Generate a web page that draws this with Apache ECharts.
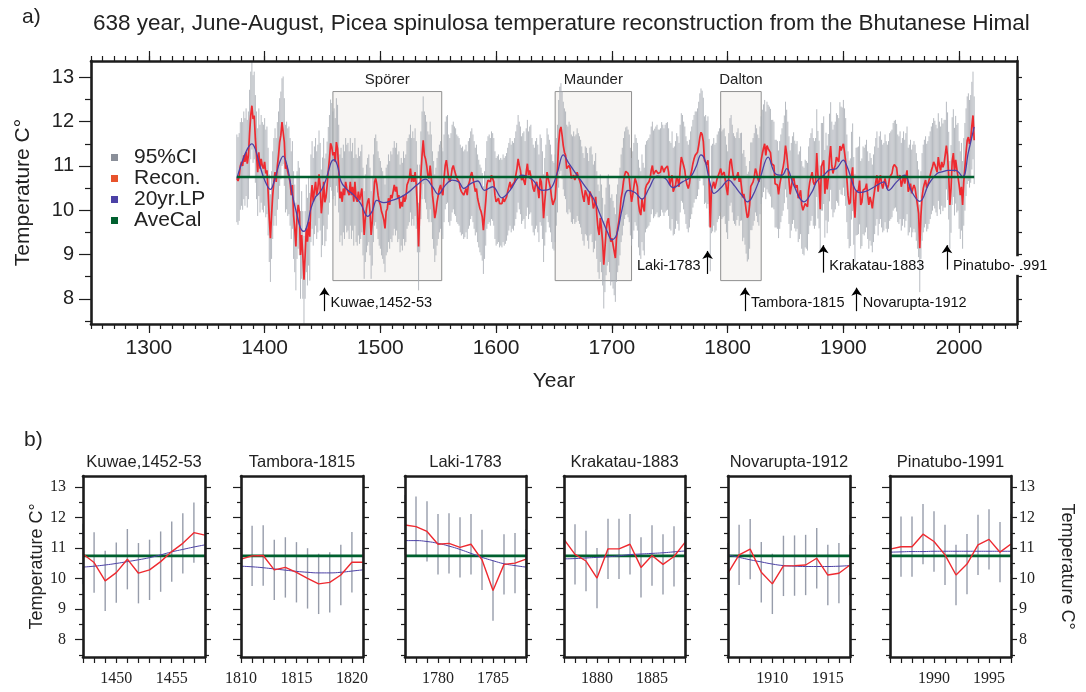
<!DOCTYPE html>
<html><head><meta charset="utf-8">
<script src="https://cdn.jsdelivr.net/npm/echarts@6/dist/echarts.min.js"></script>
<style>html,body{margin:0;padding:0;background:#fff}#c{width:1086px;height:692px}</style>
</head><body><div id="c"></div>
<script>
// ---------------- DATA ----------------
const firstYear = 1376;
const recon = [
  10.72,10.66,10.75,11.0,
  11.09,11.0,11.24,11.09,11.31,11.05,11.24,11.73,12.14,12.36,
  12.06,12.14,11.61,11.24,10.86,11.31,10.94,11.16,11.0,10.94,
  11.09,10.83,10.9,10.42,9.82,9.37,9.89,10.34,10.64,10.86,
  10.64,11.0,11.24,11.54,11.69,11.99,12.03,11.54,10.94,11.01,
  10.86,10.9,10.64,10.34,10.57,9.89,9.59,9.18,9.89,10.12,
  9.97,8.99,9.44,8.99,8.43,8.99,9.59,9.29,9.74,9.4,
  10.27,10.57,10.19,10.45,10.64,10.34,10.49,10.81,10.53,9.93,
  10.20,10.64,10.18,10.29,10.56,10.89,11.16,11.51,11.43,11.24,
  11.31,11.09,11.54,11.39,10.94,10.27,10.42,10.19,10.49,10.34,
  10.64,10.49,10.53,10.34,10.64,10.34,10.53,10.19,10.64,10.27,
  10.19,10.42,10.23,10.34,10.49,9.97,9.44,9.82,10.04,10.19,
  10.27,9.97,9.44,9.74,10.27,10.64,10.72,10.57,10.34,10.19,
  10.12,9.97,9.89,9.78,9.59,9.97,10.04,10.27,10.12,10.34,
  10.27,10.42,10.57,10.42,10.53,10.27,10.34,10.04,10.19,10.08,
  10.34,10.19,10.27,10.57,10.64,10.72,10.94,10.64,10.79,10.64,
  10.86,10.57,10.04,9.18,10.04,10.79,11.24,11.58,11.24,11.16,
  11.01,10.79,10.72,11.01,10.72,10.34,10.12,9.82,9.97,10.19,
  10.34,10.49,10.57,10.42,10.34,10.72,11.01,11.13,11.16,10.72,
  10.64,10.75,10.94,11.01,10.9,10.86,10.72,10.68,10.64,10.49,
  10.42,10.45,10.34,10.38,10.49,10.34,10.57,10.64,10.79,10.86,
  10.72,10.57,10.42,10.49,10.27,10.15,10.04,9.97,9.85,9.55,
  9.89,10.19,10.57,10.68,10.72,10.64,10.79,10.75,10.64,10.34,
  10.19,10.23,10.27,10.15,10.19,10.15,10.27,10.19,10.23,10.3,
  10.42,10.53,10.64,10.49,10.57,10.53,10.64,10.79,10.94,11.16,
  11.01,10.9,10.68,10.75,10.79,10.57,10.86,11.05,10.79,10.9,
  10.94,10.64,10.49,10.42,10.57,10.64,10.49,10.27,10.72,10.64,
  10.34,9.82,10.19,10.49,10.86,10.72,10.6,10.49,10.27,10.12,
  10.08,10.27,10.64,10.94,11.5,11.8,11.88,11.69,11.46,11.31,
  11.24,10.94,10.9,11.01,10.94,10.72,10.68,10.79,10.68,10.72,
  10.86,10.75,10.68,10.6,10.45,10.3,10.19,10.45,10.42,10.3,
  10.12,10.42,10.45,10.27,10.04,10.12,10.3,9.89,9.59,9.44,
  9.82,9.59,9.29,8.77,9.14,9.52,9.74,9.82,9.59,9.29,
  9.37,9.22,9.07,8.92,9.37,9.59,9.74,9.97,10.27,10.42,
  10.64,10.79,10.88,10.9,10.83,10.72,10.42,10.19,10.34,10.53,
  10.72,10.64,10.53,10.15,9.97,9.89,10.27,10.08,9.97,10.49,
  10.57,10.6,10.64,10.72,10.9,11.01,10.81,10.85,10.9,10.94,
  10.83,10.83,10.86,11.0,10.94,10.86,10.94,10.98,11.0,10.86,
  10.57,10.53,10.79,10.42,10.45,10.57,10.75,10.68,10.53,10.94,
  11.2,11.16,11.01,10.9,10.68,10.57,10.49,10.6,10.79,10.9,
  11.05,11.16,11.24,11.24,11.31,11.46,11.65,11.76,11.71,11.55,
  11.13,11.16,11.03,11.13,10.62,9.61,10.47,10.51,10.64,10.49,
  10.53,10.72,10.79,10.86,10.94,10.79,10.83,10.86,10.68,10.49,
  10.34,10.75,11.09,11.16,10.94,10.75,10.68,10.64,10.77,10.86,
  10.64,10.75,10.76,10.29,10.37,10.21,10.01,9.83,9.88,10.12,
  10.54,10.54,10.64,10.75,10.94,10.86,10.72,10.64,10.9,11.13,
  11.28,11.4,11.5,11.24,11.46,11.39,11.35,11.3,11.05,11.05,
  11.01,10.6,10.6,10.57,10.36,10.57,10.72,10.86,10.98,11.15,
  11.46,11.28,11.01,10.68,10.36,10.53,10.68,10.77,10.58,10.51,
  10.57,10.27,10.34,10.45,10.12,10.0,9.97,10.15,10.12,10.08,
  10.45,10.64,10.75,10.86,10.64,10.57,10.64,11.29,10.80,10.58,
  10.02,10.98,10.98,11.13,10.37,10.76,10.47,10.73,11.19,11.45,
  11.01,10.83,10.94,11.01,11.2,11.16,11.09,11.45,11.35,11.33,
  11.5,11.31,11.09,10.72,10.34,10.13,10.18,10.78,10.97,10.21,
  9.83,10.42,10.43,10.45,10.67,10.12,10.18,10.45,10.42,10.49,
  10.6,10.34,10.12,10.3,10.19,10.04,10.27,10.45,10.64,10.79,
  10.42,10.68,10.79,10.6,10.49,10.53,10.72,10.57,10.49,10.57,
  10.75,10.79,10.83,10.98,11.03,11.05,10.96,10.72,10.68,10.79,
  10.53,10.64,10.79,10.6,10.75,10.9,10.42,10.49,10.6,10.38,
  10.49,10.57,10.49,10.3,10.12,9.93,9.14,9.89,10.3,10.49,
  10.6,10.68,10.51,10.57,10.68,10.79,10.9,10.98,11.09,11.03,
  10.94,10.86,11.2,11.01,10.9,11.09,10.97,11.05,11.05,11.46,
  11.22,10.78,10.12,10.48,11.11,11.29,10.87,11.14,10.94,10.98,
  10.57,10.34,10.53,10.12,10.64,10.98,11.31,11.58,11.65,11.5,
  11.61,11.91,12.14,11.58
];
const lpPoints = [
  [1376,10.72],[1380,11.05],[1385,11.38],[1389,11.5],[1392,11.38],[1395,11.09],[1400,10.68],[1405,10.47],
  [1409,10.72],[1413,11.08],[1416,11.22],[1420,10.94],[1424,10.34],[1428,9.89],[1431,9.6],[1434,9.52],
  [1437,9.68],[1440,10.04],[1444,10.3],[1447,10.38],[1450,10.5],[1453,10.69],[1456,10.96],[1458,11.11],
  [1460,11.14],[1463,11.0],[1466,10.65],[1470,10.5],[1477,10.34],[1483,10.15],[1489,9.86],[1493,9.98],
  [1497,10.22],[1503,10.17],[1510,10.22],[1518,10.3],[1525,10.42],[1532,10.58],[1539,10.7],[1545,10.53],
  [1550,10.36],[1556,10.56],[1562,10.68],[1568,10.63],[1572,10.49],[1578,10.6],[1584,10.66],[1590,10.45],
  [1597,10.53],[1605,10.28],[1612,10.45],[1618,10.7],[1622,10.79],[1631,10.7],[1640,10.45],[1647,10.49],
  [1653,10.86],[1658,11.25],[1663,11.05],[1670,10.79],[1677,10.53],[1684,10.27],[1690,9.89],[1696,9.52],
  [1700,9.33],[1704,9.44],[1709,10.04],[1714,10.45],[1720,10.4],[1726,10.25],[1732,10.49],[1739,10.77],
  [1746,10.72],[1753,10.51],[1761,10.64],[1768,10.75],[1773,11.0],[1777,11.25],[1780,11.16],[1783,10.83],
  [1786,10.49],[1788,10.38],[1794,10.5],[1801,10.68],[1806,10.55],[1810,10.41],[1813,10.32],[1817,10.19],
  [1821,10.29],[1828,10.72],[1835,11.2],[1841,10.83],[1847,10.79],[1851,10.94],[1857,10.57],[1866,10.19],
  [1873,10.42],[1877,10.65],[1883,10.79],[1888,10.91],[1894,10.94],[1900,11.13],[1903,11.0],[1906,10.78],
  [1910,10.48],[1914,10.4],[1920,10.43],[1927,10.53],[1935,10.64],[1939,10.45],[1946,10.64],[1953,10.79],
  [1959,10.42],[1966,10.2],[1974,10.6],[1981,10.83],[1986,10.87],[1990,10.9],[1997,10.9],[2003,10.75],
  [2008,11.31],[2013,11.88]
];
const aveCal = 10.75;
const ciHalf = 0.99;
const periodNames = ['Spörer', 'Maunder', 'Dalton'];
const periodStart = [1459, 1651, 1794];
const periodEnd = [1553, 1717, 1829];
const periodLow = 8.41, periodHigh = 12.68;
const volcanoNames = ['Kuwae,1452-53', 'Laki-1783', 'Tambora-1815', 'Krakatau-1883', 'Novarupta-1912', 'Pinatubo-1991'];
const volcanoYears = [1451.7, 1782.7, 1815, 1882.6, 1911.5, 1989.5];
const panelTitles = ['Kuwae,1452-53', 'Tambora-1815', 'Laki-1783', 'Krakatau-1883', 'Novarupta-1912', 'Pinatubo-1991'];
const panelStart = [1447, 1810, 1777, 1877, 1906, 1986];
const panelLP = [
  [10.38,10.41,10.45,10.5,10.56,10.62,10.69,10.78,10.88,10.96,11.04,11.11],
  [10.41,10.39,10.36,10.32,10.28,10.24,10.21,10.19,10.19,10.21,10.25,10.29],
  [11.25,11.25,11.22,11.16,11.07,10.96,10.83,10.7,10.59,10.49,10.43,10.38],
  [10.65,10.66,10.68,10.70,10.72,10.75,10.79,10.81,10.83,10.85,10.88,10.91],
  [10.78,10.70,10.62,10.55,10.48,10.43,10.41,10.40,10.40,10.40,10.41,10.43],
  [10.87,10.88,10.89,10.89,10.9,10.9,10.9,10.9,10.9,10.9,10.9,10.9]
];
const yearTicks = [1300, 1400, 1500, 1600, 1700, 1800, 1900, 2000];
const tempTicks = [8, 9, 10, 11, 12, 13];
const legendNames = ['95%CI', 'Recon.', '20yr.LP', 'AveCal'];

// ---------------- LAYOUT ----------------
const SANS = '"Liberation Sans", Arial, Helvetica, sans-serif';
const SERIF = '"Liberation Serif", "Times New Roman", serif';
const INK = '#1c1c1c';
const C_CI = '#a4a9b1', C_CI_P = '#979dab', C_CI_LEG = '#8a8f99';
const C_REC = '#ee2a30', C_REC_LEG = '#e8532c';
const C_LP = '#4c41a6';
const C_AVE = '#00602f';
const YMIN = 7.43, YMAX = 13.37;
const plain = v => String(Math.round(v));
const halfTicks = []; for (let v = 7.5; v <= 13.01; v += 0.5) halfTicks.push(+v.toFixed(1));
const halfOnly = halfTicks.filter(v => v % 1 !== 0);
const decadeTicks = []; for (let y = 1250; y <= 2050; y += 10) decadeTicks.push(y);
const lastYear = firstYear + recon.length - 1;
if (recon.length !== 638) console.error('recon length ' + recon.length);

function axisBase(o) {
  return Object.assign({
    type: 'value', splitLine: { show: false }, z: 10,
    axisLine: { show: false, onZero: false, lineStyle: { color: INK, width: 2.5 } },
    axisTick: { show: false }, axisLabel: { show: false }
  }, o);
}
function ticks(values, len) {
  return { show: true, customValues: values, length: len, lineStyle: { color: INK, width: 1.2 } };
}
const LINE = { show: true, onZero: false, lineStyle: { color: INK, width: 2.6 } };

const grids = [{ left: 91, top: 61, width: 926, height: 263 }];
const xAxes = [], yAxes = [], series = [];

// main panel axes
xAxes.push(axisBase({ gridIndex: 0, position: 'bottom', min: 1250, max: 2050, axisLine: LINE,
  axisTick: ticks(yearTicks, 9),
  axisLabel: { show: true, customValues: yearTicks, formatter: plain, fontSize: 21, color: '#222', fontFamily: SANS, margin: 14 },
  name: 'Year', nameLocation: 'middle', nameGap: 47,
  nameTextStyle: { fontSize: 21, color: '#222', fontFamily: SANS } }));
xAxes.push(axisBase({ gridIndex: 0, position: 'bottom', min: 1250, max: 2050, axisTick: ticks(decadeTicks, 5) }));
xAxes.push(axisBase({ gridIndex: 0, position: 'top', min: 1250, max: 2050, axisLine: LINE, axisTick: ticks(yearTicks, 10) }));
xAxes.push(axisBase({ gridIndex: 0, position: 'top', min: 1250, max: 2050, axisTick: ticks(decadeTicks, 5) }));
yAxes.push(axisBase({ gridIndex: 0, position: 'left', min: YMIN, max: YMAX, axisLine: LINE,
  axisTick: ticks(tempTicks, 12),
  axisLabel: { show: true, customValues: tempTicks, formatter: plain, fontSize: 20, color: '#222', fontFamily: SANS, margin: 17 },
  name: 'Temperature C°', nameLocation: 'middle', nameGap: 57, nameRotate: 90,
  nameTextStyle: { fontSize: 21, color: '#222', fontFamily: SANS } }));
yAxes.push(axisBase({ gridIndex: 0, position: 'left', min: YMIN, max: YMAX, axisTick: ticks(halfOnly, 6) }));
yAxes.push(axisBase({ gridIndex: 0, position: 'right', min: YMIN, max: YMAX, axisLine: LINE, axisTick: ticks(halfTicks, 5) }));

function ciRender(color, width) {
  return function (params, api) {
    const x = api.value(0);
    const p1 = api.coord([x, api.value(1)]);
    const p2 = api.coord([x, api.value(2)]);
    return { type: 'line', shape: { x1: p1[0], y1: p1[1], x2: p2[0], y2: p2[1] },
      style: { stroke: color, lineWidth: width } };
  };
}
const reconPairs = recon.map((v, i) => [firstYear + i, v]);
const ciData = recon.map((v, i) => [firstYear + i, v - ciHalf, v + ciHalf]);

// arrows (annotation geometry)
const arrowLow = [7.72, 8.56, 7.72, 8.59, 7.72, 8.66];
const arrowHigh = [8.25, 9.08, 8.25, 9.21, 8.25, 9.21];

series.push({ type: 'line', name: 'periods', xAxisIndex: 0, yAxisIndex: 0, z: 1, silent: true,
  data: [[firstYear, aveCal]], symbol: 'none', lineStyle: { opacity: 0 },
  markArea: { silent: true,
    itemStyle: { color: '#f7f5f3', borderColor: '#8f8f8f', borderWidth: 1 },
    label: { show: true, position: 'top', distance: 4, fontSize: 15, color: '#222', fontFamily: SANS },
    data: periodNames.map((n, k) => [{ name: n, coord: [periodStart[k], periodLow] }, { coord: [periodEnd[k], periodHigh] }]) } });
series.push({ type: 'custom', name: '95%CI', xAxisIndex: 0, yAxisIndex: 0, z: 2, silent: true,
  renderItem: ciRender(C_CI, 0.8), encode: { x: 0, y: [1, 2] }, data: ciData, itemStyle: { color: C_CI_LEG } });
series.push({ type: 'line', name: 'Recon.', xAxisIndex: 0, yAxisIndex: 0, z: 3, silent: true,
  data: reconPairs, symbol: 'none', lineStyle: { color: C_REC, width: 1.7 }, itemStyle: { color: C_REC_LEG } });
series.push({ type: 'line', name: '20yr.LP', xAxisIndex: 0, yAxisIndex: 0, z: 4, silent: true,
  data: lpPoints, symbol: 'none', smooth: 0.4, lineStyle: { color: C_LP, width: 1.3 }, itemStyle: { color: C_LP } });
series.push({ type: 'line', name: 'AveCal', xAxisIndex: 0, yAxisIndex: 0, z: 5, silent: true,
  data: [[firstYear, aveCal], [lastYear, aveCal]], symbol: 'none', lineStyle: { color: C_AVE, width: 2.6 }, itemStyle: { color: C_AVE },
  markLine: { silent: true, symbol: ['none', 'arrow'], symbolSize: 8, animation: false,
    lineStyle: { color: '#000', width: 1.2, type: 'solid' }, label: { show: false },
    data: volcanoYears.map((y, k) => [{ coord: [y, arrowLow[k]] }, { coord: [y, arrowHigh[k]] }]) } });

// bottom panels
const pLeft = [83, 241, 405, 564, 728, 890];
const pWidth = [122, 122, 121, 121, 122, 121];
const titles = [
  { text: 'a)', left: 22, top: 7, padding: 0, textStyle: { fontSize: 21, fontWeight: 'normal', color: '#222', fontFamily: SANS } },
  { text: '638 year, June-August, Picea spinulosa temperature reconstruction from the Bhutanese Himal', left: 93, top: 12, padding: 0,
    textStyle: { fontSize: 22.5, fontWeight: 'normal', color: '#222', fontFamily: SANS } },
  { text: 'b)', left: 24, top: 430, padding: 0, textStyle: { fontSize: 21, fontWeight: 'normal', color: '#222', fontFamily: SANS } }
];
panelStart.forEach((start, i) => {
  const end = start + 11;
  const g = grids.length;
  grids.push({ left: pLeft[i], top: 476, width: pWidth[i], height: 181 });
  const yrs = []; for (let y = start; y <= end; y++) yrs.push(y);
  const lbl = yrs.filter(y => y % 5 === 0);
  const xb = xAxes.length;
  xAxes.push(axisBase({ gridIndex: g, position: 'bottom', min: start, max: end, axisLine: LINE,
    axisTick: ticks(yrs, 6),
    axisLabel: { show: true, customValues: lbl, formatter: plain, fontSize: 16, color: '#222', fontFamily: SERIF, margin: 14 } }));
  xAxes.push(axisBase({ gridIndex: g, position: 'top', min: start, max: end, axisLine: LINE }));
  const yl = yAxes.length;
  yAxes.push(axisBase(Object.assign({ gridIndex: g, position: 'left', min: YMIN, max: YMAX, axisLine: LINE,
    axisTick: ticks(tempTicks, 8),
    axisLabel: { show: i === 0, customValues: tempTicks, formatter: plain, fontSize: 16, color: '#222', fontFamily: SERIF, margin: 17 } },
    i === 0 ? { name: 'Temperature C°', nameLocation: 'middle', nameGap: 37, nameRotate: 90,
      nameTextStyle: { fontSize: 18, color: '#222', fontFamily: SANS } } : {})));
  yAxes.push(axisBase({ gridIndex: g, position: 'left', min: YMIN, max: YMAX, axisTick: ticks(halfOnly, 4) }));
  yAxes.push(axisBase(Object.assign({ gridIndex: g, position: 'right', min: YMIN, max: YMAX, axisLine: LINE,
    axisTick: ticks(tempTicks, 6),
    axisLabel: { show: i === 5, customValues: tempTicks, formatter: plain, fontSize: 16, color: '#222', fontFamily: SERIF, margin: 8 } },
    i === 5 ? { name: 'Temperature C°', nameLocation: 'middle', nameGap: 47, nameRotate: -90,
      nameTextStyle: { fontSize: 18, color: '#222', fontFamily: SANS } } : {})));
  yAxes.push(axisBase({ gridIndex: g, position: 'right', min: YMIN, max: YMAX, axisTick: ticks(halfOnly, 4) }));

  const off = start - firstYear;
  const rec = recon.slice(off, off + 12);
  series.push({ type: 'custom', name: '95%CI', xAxisIndex: xb, yAxisIndex: yl, z: 2, silent: true,
    renderItem: ciRender(C_CI_P, 1.4), encode: { x: 0, y: [1, 2] },
    data: rec.map((v, k) => [start + k, v - ciHalf, v + ciHalf]), itemStyle: { color: C_CI_LEG } });
  series.push({ type: 'line', name: 'AveCal', xAxisIndex: xb, yAxisIndex: yl, z: 3, silent: true,
    data: [[start, aveCal], [end, aveCal]], symbol: 'none', lineStyle: { color: C_AVE, width: 2.6 } });
  series.push({ type: 'line', name: '20yr.LP', xAxisIndex: xb, yAxisIndex: yl, z: 4, silent: true,
    data: panelLP[i].map((v, k) => [start + k, v]), symbol: 'none', smooth: true, lineStyle: { color: C_LP, width: 1 } });
  series.push({ type: 'line', name: 'Recon.', xAxisIndex: xb, yAxisIndex: yl, z: 5, silent: true,
    data: rec.map((v, k) => [start + k, v]), symbol: 'none', lineStyle: { color: C_REC, width: 1.4 } });

  titles.push({ text: panelTitles[i], left: pLeft[i] + pWidth[i] / 2, top: 454, textAlign: 'center', padding: 0,
    textStyle: { fontSize: 16.5, fontWeight: 'normal', color: '#222', fontFamily: SANS } });
});

const legendColors = [C_CI_LEG, C_REC_LEG, C_LP, C_AVE];
const chart = echarts.init(document.getElementById('c'), null, { renderer: 'canvas' });
chart.setOption({
  animation: false,
  backgroundColor: '#fff',
  title: titles,
  legend: { orient: 'vertical', left: 106, top: 142, itemWidth: 7, itemHeight: 7, itemGap: 0, icon: 'rect',
    selectedMode: false,
    textStyle: { fontSize: 21, color: '#222', fontFamily: SANS, lineHeight: 20, padding: [0, 0, 0, 11] },
    data: legendNames.map((n, k) => ({ name: n, icon: 'rect', itemStyle: { color: legendColors[k] } })) },
  grid: grids, xAxis: xAxes, yAxis: yAxes, series: series
});

// volcano labels next to the arrows
const labelVal = [7.91, 8.75, 7.91, 8.75, 7.91, 8.75];
const graphics = [];
volcanoNames.forEach((n, k) => {
  const p = chart.convertToPixel({ xAxisIndex: 0, yAxisIndex: 0 }, [volcanoYears[k], labelVal[k]]);
  const leftSide = n === 'Laki-1783';
  graphics.push({ type: 'text', x: leftSide ? p[0] - 7 : p[0] + 6, y: p[1], z: 50,
    style: { text: n, fontSize: 14.5, fontFamily: SANS, fill: '#111', textAlign: leftSide ? 'right' : 'left', textVerticalAlign: 'middle' } });
});
// gap in right frame beside the Pinatubo label
const g1 = chart.convertToPixel({ xAxisIndex: 0, yAxisIndex: 0 }, [2050, 8.96]);
const g2 = chart.convertToPixel({ xAxisIndex: 0, yAxisIndex: 0 }, [2050, 8.54]);
graphics.push({ type: 'rect', z: 60, shape: { x: g1[0] - 3, y: g1[1], width: 6, height: g2[1] - g1[1] }, style: { fill: '#fff' } });
chart.setOption({ graphic: graphics });
</script></body></html>
